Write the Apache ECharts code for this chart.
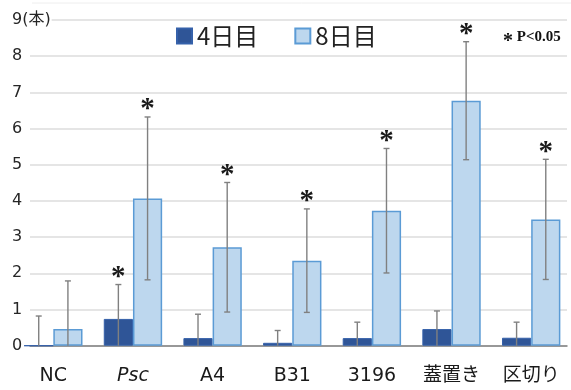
<!DOCTYPE html>
<html>
<head>
<meta charset="utf-8">
<script src="https://cdn.jsdelivr.net/npm/echarts@6/dist/echarts.min.js"></script>
<style>
  html, body { margin: 0; padding: 0; background: #fff; }
  #chart { width: 571px; height: 390px; }
</style>
</head>
<body>
<div id="chart"></div>
<script>
// Groups on the x axis
const categories = ['NC', 'Psc', 'A4', 'B31', '3196', '蓋置き', '区切り'];
// Mean counts (本) on day 4 and day 8
const day4Mean = [0, 0.74, 0.21, 0.08, 0.21, 0.46, 0.22];
const day8Mean = [0.46, 4.07, 2.72, 2.35, 3.73, 6.77, 3.49];
// Standard deviations drawn as error bars
const day4Sd = [0.82, 0.95, 0.66, 0.34, 0.44, 0.50, 0.43];
const day8Sd = [1.33, 2.25, 1.79, 1.43, 1.72, 1.63, 1.66];
// Significance marks (P<0.05)
const day4Sig = [0, 1, 0, 0, 0, 0, 0];
const day8Sig = [0, 1, 1, 1, 1, 1, 1];
// Y axis ticks
const yTicks = [0, 1, 2, 3, 4, 5, 6, 7, 8, 9];

const BAR_GAP = 0.267;
const CJK = "'DejaVu Sans', 'Noto Sans CJK JP', sans-serif";

function errData(means, sds, sig, s) {
  return means.map((m, i) => [i, Math.max(0, m - sds[i]), m + sds[i], s, sig[i], m - sds[i] > 0 ? 1 : 0]);
}

function renderErr(params, api) {
  const i = api.value(0);
  const lo = api.value(1), hi = api.value(2);
  const s = api.value(3), sig = api.value(4), lowCap = api.value(5);
  const cw = api.size([1, 0])[0];
  const bw = cw * (1 - BAR_GAP) / 2;
  const x = api.coord([i, 0])[0] + (s === 0 ? -bw / 2 : bw / 2);
  const yLo = api.coord([i, lo])[1];
  const yHi = api.coord([i, hi])[1];
  const st = { stroke: '#808080', lineWidth: 1.4 };
  const children = [
    { type: 'line', shape: { x1: x, y1: yLo, x2: x, y2: yHi }, style: st },
    { type: 'line', shape: { x1: x - 3, y1: yHi, x2: x + 3, y2: yHi }, style: st }
  ];
  if (lowCap) {
    children.push({ type: 'line', shape: { x1: x - 3, y1: yLo, x2: x + 3, y2: yLo }, style: st });
  }
  if (sig) {
    children.push({
      type: 'text',
      style: {
        text: '*', x: x, y: yHi - 7, align: 'center', verticalAlign: 'middle',
        fontSize: 29, fontWeight: 'bold', fontFamily: "'Liberation Serif', serif", fill: '#1a1a1a'
      }
    });
  }
  return { type: 'group', children: children };
}

const chart = echarts.init(document.getElementById('chart'), null, { renderer: 'canvas' });
chart.setOption({
  animation: false,
  backgroundColor: '#fff',
  legend: {
    data: ['4日目', '8日目'],
    left: 176, top: 24, padding: 0,
    icon: 'rect',
    itemWidth: 15, itemHeight: 15, itemGap: 36,
    textStyle: { fontSize: 24, fontFamily: "'Noto Sans CJK JP'", color: '#222' }
  },
  graphic: [
    { type: 'line', shape: { x1: 32, y1: 3, x2: 571, y2: 3 }, style: { stroke: '#eeeeee', lineWidth: 1 } },
    {
      type: 'text', left: 503, top: 30,
      style: { text: '{a|*} P<0.05', fontSize: 15, fontWeight: 'bold', fontFamily: "'Liberation Serif', serif", fill: '#111',
        rich: { a: { fontSize: 20, fontWeight: 'bold', fontFamily: "'Liberation Serif', serif", fill: '#111', padding: [8, 0, 0, 0] } } }
    }
  ],
  grid: [
    { left: 13.5, width: 560, top: 20, height: 325.7 },
    { left: 30, width: 537, top: 20, height: 325.7 }
  ],
  xAxis: [
    {
      type: 'category', gridIndex: 0, data: categories,
      axisLine: { show: false }, axisTick: { show: false }, splitLine: { show: false },
      axisLabel: {
        interval: 0, margin: 21, fontSize: 19, fontFamily: CJK, color: '#1a1a1a',
        formatter: v => v === 'Psc' ? '{i|Psc}' : v,
        rich: { i: { fontStyle: 'italic', fontSize: 19, fontFamily: CJK, color: '#1a1a1a' } }
      }
    },
    {
      type: 'category', gridIndex: 1, data: categories,
      axisLine: { show: true, lineStyle: { color: '#7f7f7f', width: 1.5 } },
      axisTick: { show: false }, axisLabel: { show: false }, splitLine: { show: false }
    }
  ],
  yAxis: [
    { type: 'value', gridIndex: 0, min: 0, max: 9, show: false },
    {
      type: 'value', gridIndex: 1, min: yTicks[0], max: yTicks[yTicks.length - 1], interval: 1,
      axisLine: { show: false }, axisTick: { show: false },
      splitLine: { lineStyle: { color: '#dcdcdc', width: 1.5 } },
      axisLabel: {
        align: 'left', margin: 18, fontSize: 16, fontFamily: CJK, color: '#262626',
        formatter: v => v === 9 ? '{t|9(本)}' : String(v),
        rich: { t: { fontSize: 16, fontFamily: CJK, color: '#262626', backgroundColor: '#fff', padding: [0, 1, 0, 0] } }
      }
    }
  ],
  series: [
    {
      name: '4日目', type: 'bar', xAxisIndex: 0, yAxisIndex: 0,
      data: day4Mean, barGap: '0%', barCategoryGap: (BAR_GAP * 100) + '%',
      itemStyle: { color: '#2F5597', borderColor: '#3561AA', borderWidth: 1 }
    },
    {
      name: '8日目', type: 'bar', xAxisIndex: 0, yAxisIndex: 0,
      data: day8Mean, barGap: '0%', barCategoryGap: (BAR_GAP * 100) + '%',
      itemStyle: { color: '#BDD7EE', borderColor: '#5B9BD5', borderWidth: 1.5 }
    },
    {
      type: 'custom', xAxisIndex: 0, yAxisIndex: 0, z: 5, clip: false,
      renderItem: renderErr, data: errData(day4Mean, day4Sd, day4Sig, 0)
    },
    {
      type: 'custom', xAxisIndex: 0, yAxisIndex: 0, z: 5, clip: false,
      renderItem: renderErr, data: errData(day8Mean, day8Sd, day8Sig, 1)
    }
  ]
});
</script>
</body>
</html>
